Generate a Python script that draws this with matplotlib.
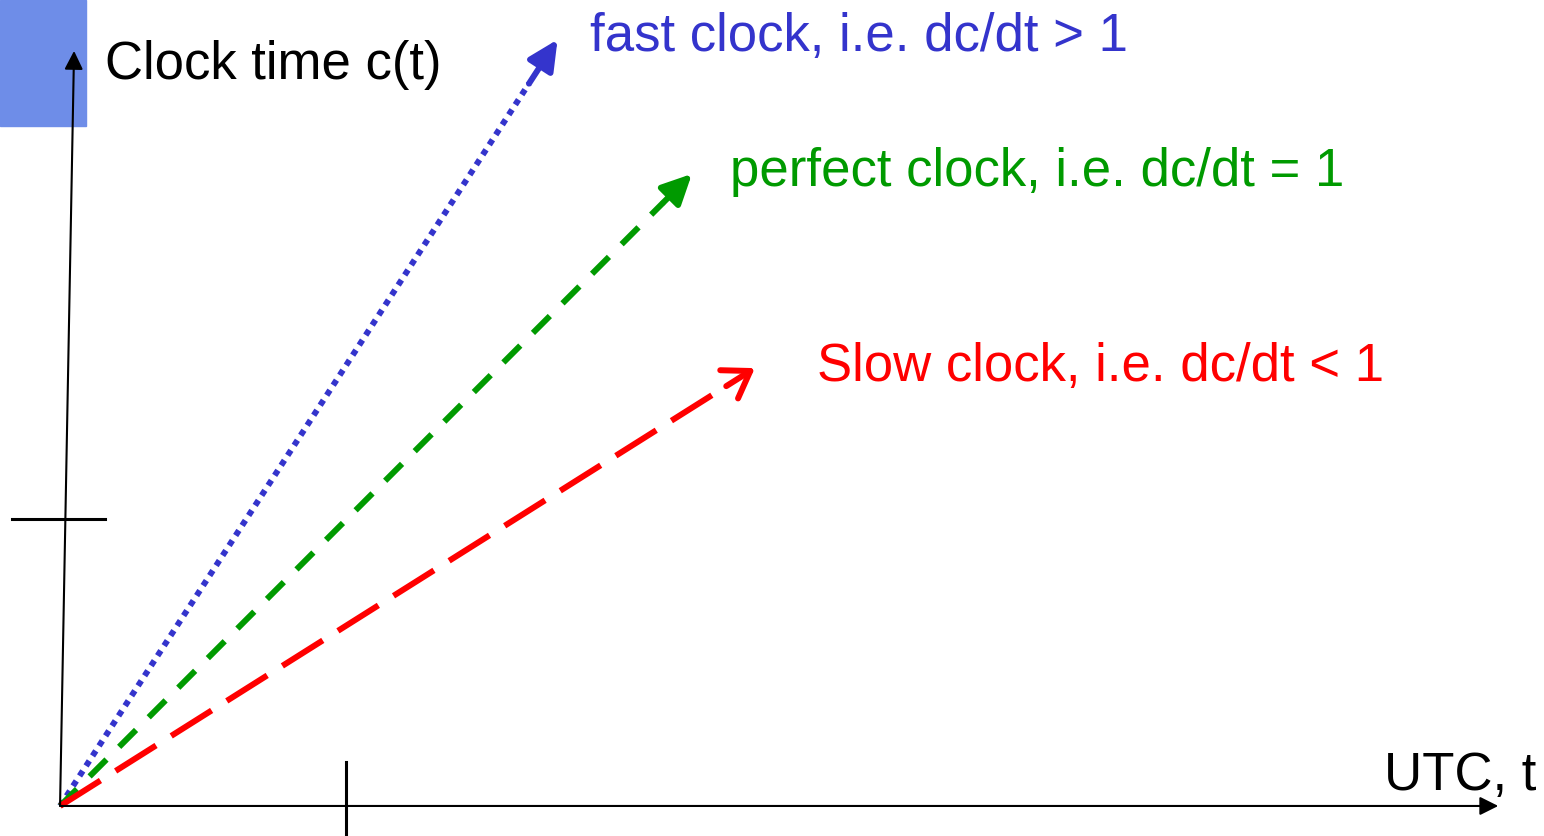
import matplotlib.pyplot as plt
from matplotlib.patches import Rectangle

plt.rcParams['font.family'] = ['Liberation Sans', 'DejaVu Sans']

# clock rates dc/dt and the UTC time where each arrow ends
labels = ['fast clock, i.e. dc/dt > 1', 'perfect clock, i.e. dc/dt = 1', 'Slow clock, i.e. dc/dt < 1']
rates = [1.54, 1.0, 0.63]
t_end = [1.74, 2.21, 2.43]
colors = ['#3434cc', '#009a00', '#ff0000']
styles = [(0, (1, 1)), (0, (4, 3)), (0, (8, 3))]
widths = [4.3, 4.3, 4.3]
label_pos = [(1.853, 2.69), (2.343, 2.215), (2.647, 1.535)]

fig = plt.figure(figsize=(15.44, 8.36), dpi=100)
ax = fig.add_axes([0, 0, 1, 1])
ax.set_xlim(-0.21, 5.19)
ax.set_ylim(-0.105, 2.818)
ax.axis('off')

# blue block in the corner
ax.add_patch(Rectangle((-0.21, 2.378), 0.3, 0.44, color='#6e8de8', zorder=0))

# axes with arrowheads
ax.annotate('', xy=(0.049, 2.64), xytext=(0, 0),
            arrowprops=dict(arrowstyle='-|>', color='black', lw=1.5,
                            mutation_scale=28, shrinkA=0, shrinkB=0))
ax.annotate('', xy=(5.03, 0), xytext=(0, 0),
            arrowprops=dict(arrowstyle='-|>', color='black', lw=1.5,
                            mutation_scale=28, shrinkA=0, shrinkB=0))

# tick marks at one unit
ax.plot([1, 1], [-0.105, 0.155], color='black', lw=2.2)
ax.plot([-0.168, 0.157], [1.003, 1.003], color='black', lw=2.2)

heads = ['-|>,head_length=0.45,head_width=0.22',
         '-|>,head_length=0.45,head_width=0.22',
         '->,head_length=0.45,head_width=0.3']
for rate, te, col, ls, lw, hd in zip(rates, t_end, colors, styles, widths, heads):
    tb = te - 0.1
    ax.plot([0, tb], [0, rate * tb], color=col, linestyle=ls, lw=lw,
            solid_capstyle='butt', dash_capstyle='butt')
    ax.annotate('', xy=(te, rate * te), xytext=(tb, rate * tb),
                arrowprops=dict(arrowstyle=hd, color=col, lw=lw,
                                mutation_scale=40, shrinkA=0, shrinkB=0))

for lab, (x, y), col in zip(labels, label_pos, colors):
    ax.text(x, y, lab, color=col, fontsize=38, va='center', ha='left')

ax.text(0.157, 2.59, 'Clock time c(t)', color='black', fontsize=38, va='center', ha='left')
ax.text(4.63, 0.105, 'UTC, t', color='black', fontsize=38, va='center', ha='left')

plt.savefig('out.png', dpi=100)
